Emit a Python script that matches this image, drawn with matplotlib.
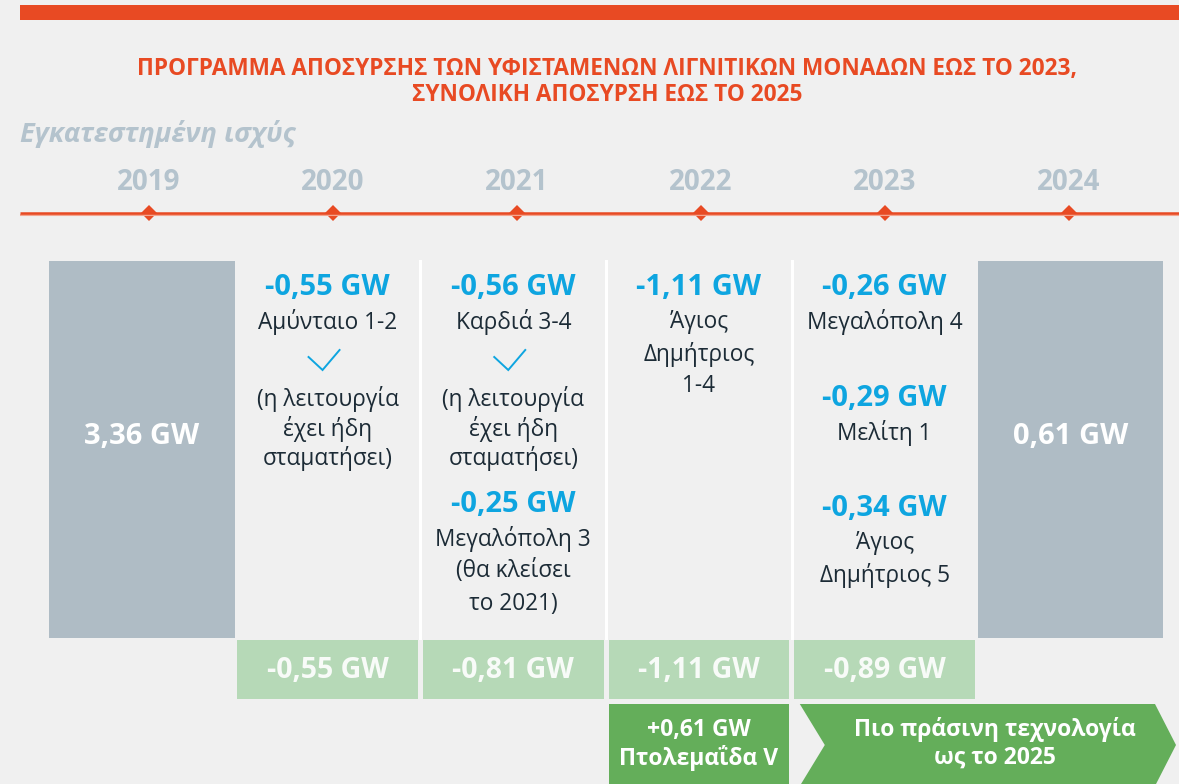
import matplotlib
matplotlib.use("Agg")
import matplotlib.pyplot as plt
from matplotlib.patches import Rectangle, Polygon

plt.rcParams['font.family'] = ['Open Sans', 'DejaVu Sans']

# ---------------- data ----------------
title_lines = ["ΠΡΟΓΡΑΜΜΑ ΑΠΟΣΥΡΣΗΣ ΤΩΝ ΥΦΙΣΤΑΜΕΝΩΝ ΛΙΓΝΙΤΙΚΩΝ ΜΟΝΑΔΩΝ ΕΩΣ ΤΟ 2023,",
               "ΣΥΝΟΛΙΚΗ ΑΠΟΣΥΡΣΗ ΕΩΣ ΤΟ 2025"]
subtitle = "Εγκατεστημένη ισχύς"
years = ["2019", "2020", "2021", "2022", "2023", "2024"]
capacity_start = "3,36 GW"
capacity_end = "0,61 GW"

# per closing year: list of blocks (value, name lines, done-check, note lines)
closures_2020 = [("-0,55 GW", ["Αμύνταιο 1-2"], True, ["(η λειτουργία", "έχει ήδη", "σταματήσει)"])]
closures_2021 = [("-0,56 GW", ["Καρδιά 3-4"], True, ["(η λειτουργία", "έχει ήδη", "σταματήσει)"]),
                 ("-0,25 GW", ["Μεγαλόπολη 3"], False, ["(θα κλείσει", "το 2021)"])]
closures_2022 = [("-1,11 GW", ["Άγιος", "Δημήτριος", "1-4"], False, [])]
closures_2023 = [("-0,26 GW", ["Μεγαλόπολη 4"], False, []),
                 ("-0,29 GW", ["Μελίτη 1"], False, []),
                 ("-0,34 GW", ["Άγιος", "Δημήτριος 5"], False, [])]
yearly_totals = ["-0,55 GW", "-0,81 GW", "-1,11 GW", "-0,89 GW"]
new_unit = ["+0,61 GW", "Πτολεμαΐδα V"]
future_note = ["Πιο πράσινη τεχνολογία", "ως το 2025"]

# ---------------- style ----------------
BG = "#f0f0f0"
ORANGE = "#e84a23"
GRAYBOX = "#afbcc5"
YEARGRAY = "#b4c3cd"
BLUE = "#0ea5e0"
DARK = "#1c2b36"
LGREEN = "#b6d9b7"
DGREEN = "#64ae5a"

W, H = 1179, 784
fig = plt.figure(figsize=(W / 100, H / 100), dpi=100, facecolor=BG)
ax = fig.add_axes([0, 0, 1, 1])
ax.set_xlim(0, W)
ax.set_ylim(H, 0)
ax.axis("off")
ax.set_facecolor(BG)

# top bar
ax.add_patch(Rectangle((20, 5), W - 20, 15, color=ORANGE, lw=0))

# title
ax.text(607, 69, title_lines[0], color=ORANGE, fontsize=16.3, fontweight="bold",
        ha="center", va="center")
ax.text(607, 95, title_lines[1], color=ORANGE, fontsize=16.3, fontweight="bold",
        ha="center", va="center")
ax.text(20, 134, subtitle, color=YEARGRAY, fontsize=19.6, fontweight="bold",
        style="italic", ha="left", va="center")

# timeline
year_x0, year_dx = 149, 184
ax.plot([20, W], [214.5, 214.5], color="#f4a58f", lw=1.5, solid_capstyle="butt")
ax.plot([20, W], [213, 213], color=ORANGE, lw=1.8, solid_capstyle="butt")
for i, y in enumerate(years):
    x = year_x0 + year_dx * i
    ax.text(x, 182, y, color=YEARGRAY, fontsize=20, fontweight="bold",
            ha="center", va="center")
    ax.add_patch(Polygon([(x - 8, 213), (x, 205), (x + 8, 213), (x, 221)],
                         closed=True, color=ORANGE, lw=0))

# columns
col_left, col_w = 49, 185.7
top, bottom = 261, 638
cx = [col_left + col_w * (i + 0.5) for i in range(6)]

# gray capacity boxes
for i, label in [(0, capacity_start), (5, capacity_end)]:
    ax.add_patch(Rectangle((col_left + col_w * i, top), col_w, bottom - top,
                           color=GRAYBOX, lw=0))
    ax.text(cx[i], 436, label, color="white", fontsize=21, fontweight="bold",
            ha="center", va="center")

# white separators
for i in (2, 3, 4):
    xs = col_left + col_w * i
    ax.plot([xs, xs], [top, bottom], color="white", lw=2.2)

# closure blocks
LINE = 32
GW_GAP = 35


def draw_column(i, blocks, starts):
    x = cx[i]
    for (val, names, done, notes), y0 in zip(blocks, starts):
        ax.text(x, y0, val, color=BLUE, fontsize=21, fontweight="bold",
                ha="center", va="center")
        y = y0 + GW_GAP
        for n in names:
            ax.text(x, y, n, color=DARK, fontsize=16.3, ha="center", va="center")
            y += LINE
        if done:
            ax.plot([x - 19, x - 5, x + 12], [357, 370, 350], color=BLUE, lw=1.4,
                    solid_joinstyle="miter")
            y = 399
        for n in notes:
            ax.text(x, y, n, color=DARK, fontsize=16.3, ha="center", va="center")
            y += 29.5 if done else 33.5


draw_column(1, closures_2020, [287])
draw_column(2, closures_2021, [287, 504])
draw_column(3, closures_2022, [287])
draw_column(4, closures_2023, [287, 398, 508])

# yearly totals (light green)
for k, t in enumerate(yearly_totals):
    i = k + 1
    x0 = col_left + col_w * i
    ax.add_patch(Rectangle((x0 + 2.5, 640), col_w - 5, 59, color=LGREEN, lw=0))
    ax.text(cx[i], 670, t, color="#f8fbf8", fontsize=20.5, fontweight="bold",
            ha="center", va="center")

# new unit box (dark green)
x0 = col_left + col_w * 3
ax.add_patch(Rectangle((x0 + 3, 704), col_w - 6, 90, color=DGREEN, lw=0))
ax.text(cx[3], 730, new_unit[0], color="white", fontsize=16.5, fontweight="bold",
        ha="center", va="center")
ax.text(cx[3], 758, new_unit[1], color="white", fontsize=16.5, fontweight="bold",
        ha="center", va="center")

# chevron
cl = col_left + col_w * 4 + 8
ax.add_patch(Polygon([(cl, 704), (1155, 704), (1176, 745), (1155, 786),
                      (cl, 786), (cl + 25, 745)], closed=True, color=DGREEN, lw=0))
ax.text(995, 730, future_note[0], color="white", fontsize=16.5, fontweight="bold",
        ha="center", va="center")
ax.text(995, 758, future_note[1], color="white", fontsize=16.5, fontweight="bold",
        ha="center", va="center")

fig.savefig("out.png", dpi=100, facecolor=BG)
